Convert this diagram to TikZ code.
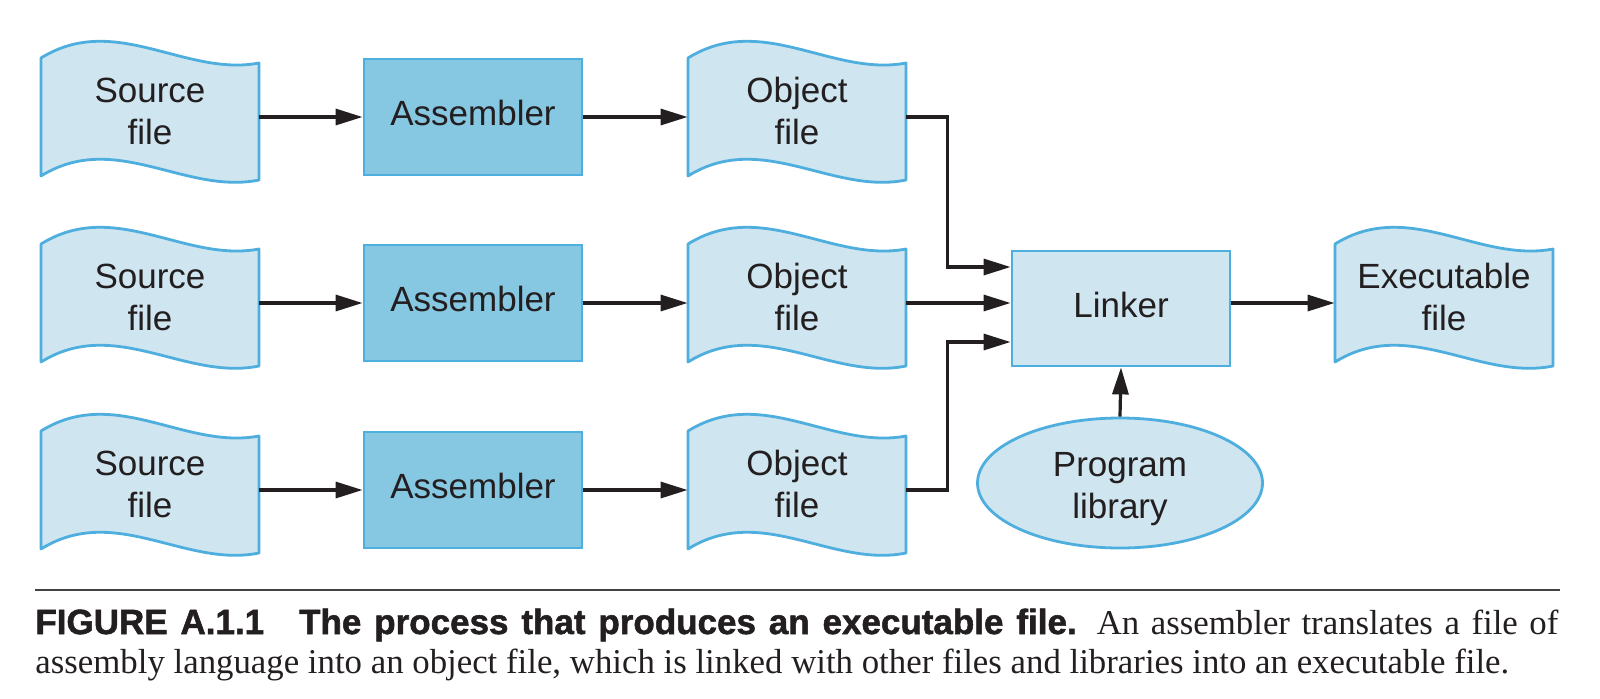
\documentclass[tikz,border=0pt]{standalone}
\usepackage{fontspec}
\setmainfont{Liberation Sans}
\newfontfamily\capserif{Liberation Serif}
\newfontfamily\capbold{Liberation Sans Bold}[FakeBold=1.5]
\usetikzlibrary{arrows.meta,shapes.geometric}

\definecolor{lightfill}{RGB}{207,229,240}
\definecolor{darkfill}{RGB}{134,199,226}
\definecolor{edgeblue}{RGB}{78,174,222}
\definecolor{ink}{RGB}{35,31,32}

\newcommand\diagfont{\fontsize{17.5}{21}\selectfont}

\tikzset{
  docpath/.style={draw=edgeblue, fill=lightfill, line width=1.4pt, line join=round},
  docnode/.style={shape=rectangle, minimum width=109pt, minimum height=59pt, inner sep=0pt, align=center, font=\diagfont, text=ink, text height=34pt, text depth=6.5pt},
  onetext/.style={text height=12.7pt, text depth=4.2pt},
  asmbox/.style={draw=edgeblue, fill=darkfill, line width=1.4pt, minimum width=109pt, minimum height=58pt, inner sep=0pt, font=\diagfont, text=ink, onetext},
  lnkbox/.style={draw=edgeblue, fill=lightfill, line width=1.4pt, minimum width=109pt, minimum height=57.5pt, inner sep=0pt, font=\diagfont, text=ink, onetext},
  libell/.style={ellipse, draw=edgeblue, fill=lightfill, line width=1.4pt, minimum width=142.5pt, minimum height=65pt, inner sep=0pt, align=center, font=\diagfont, text=ink, text height=36pt, text depth=0.5pt},
  arr/.style={draw=ink, line width=1.6pt, -{Triangle[length=13.5pt,width=8pt]}},
  caprule/.style={draw=ink!85, line width=1pt},
  captext/.style={anchor=base west, inner sep=0pt, text=ink}
}

\newcommand\docshape[4]{%
  \begin{scope}[shift={(#2,#3)}]
    \path[docpath] (-109,-59) .. controls (-35,-105) and (35,-40) .. (109,-54)
      -- (109,63) .. controls (35,78) and (-35,13) .. (-109,59) -- cycle;
  \end{scope}
  \node[docnode] (#1) at (#2,#3) {#4};
}

\begin{document}
\begin{tikzpicture}[x=0.5pt, y=-0.5pt]
\useasboundingbox (0,0) rectangle (1600,698);

% source files
\docshape{src1}{150}{117}{Source\\file}
\docshape{src2}{150}{303}{Source\\file}
\docshape{src3}{150}{490}{Source\\file}

% assemblers
\node[asmbox] (asm1) at (473,117) {Assembler};
\node[asmbox] (asm2) at (473,303) {Assembler};
\node[asmbox] (asm3) at (473,490) {Assembler};

% object files
\docshape{obj1}{797}{117}{Object\\file}
\docshape{obj2}{797}{303}{Object\\file}
\docshape{obj3}{797}{490}{Object\\file}

% linker, executable, library
\node[lnkbox] (lnk) at (1121,308.5) {Linker};
\docshape{exe}{1444}{303}{Executable\\file}
\node[libell] (lib) at (1120,483) {Program\\library};

% connectors
\draw[arr] (src1.east) -- (asm1.west);
\draw[arr] (src2.east) -- (asm2.west);
\draw[arr] (src3.east) -- (asm3.west);
\draw[arr] (asm1.east) -- (obj1.west);
\draw[arr] (asm2.east) -- (obj2.west);
\draw[arr] (asm3.east) -- (obj3.west);
\draw[arr] (obj1.east) -- ++(41,0) |- ([yshift=20.75pt]lnk.west);
\draw[arr] (obj2.east) -- (obj2.east -| lnk.west);
\draw[arr] (obj3.east) -- ++(41,0) |- ([yshift=-16.75pt]lnk.west);
\draw[arr] (exe.west -| lnk.east) -- (exe.west);
\draw[arr] (lib.north) -- (lnk.south);

% caption
\coordinate (ruleL) at (35,590);
\coordinate (ruleR) at (1560,590);
\draw[caprule] (ruleL) -- (ruleR);
\node[captext] (cap1) at (35,634) {\makebox[761.5pt][s]{\capbold\fontsize{17.5}{19.5}\selectfont FIGURE A.1.1\quad The process that produces an executable file.\capserif\fontsize{17.4}{19.5}\selectfont{} An assembler translates a file of}};
\node[captext] (cap2) at (35,673) {\capserif\fontsize{17.4}{19.5}\selectfont assembly language into an object file, which is linked with other files and libraries into an executable file.};
\end{tikzpicture}
\end{document}
